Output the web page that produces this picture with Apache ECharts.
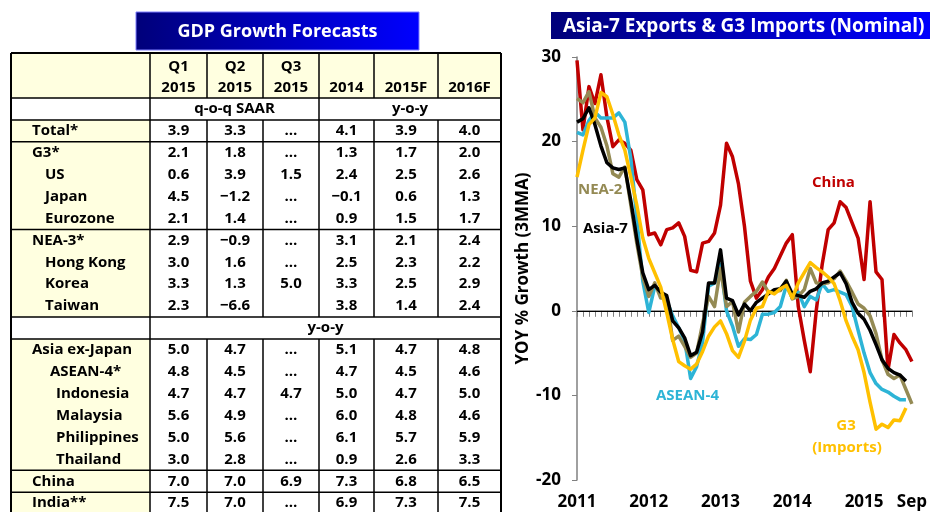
<!DOCTYPE html>
<html><head><meta charset="utf-8">
<script src="https://cdn.jsdelivr.net/npm/echarts@6/dist/echarts.min.js"></script>
<style>html,body{margin:0;padding:0;background:#fff}#c{width:930px;height:512px}</style>
</head><body><div id="c"></div>
<script>
// ================= TABLE DATA =================
const tableTitle = 'GDP Growth Forecasts';
const rowLabels = ['Total*','G3*','US','Japan','Eurozone','NEA-3*','Hong Kong','Korea','Taiwan',
  'Asia ex-Japan','ASEAN-4*','Indonesia','Malaysia','Philippines','Thailand','China','India**'];
const colTop = ['Q1','Q2','Q3','','',''];
const colBottom = ['2015','2015','2015','2014','2015F','2016F'];
const groupQoq = 'q-o-q SAAR';
const groupYoy = 'y-o-y';
// null = "…" (not yet released), '' = blank
const q1_2015 = [3.9,2.1,0.6,4.5,2.1,2.9,3.0,3.3,2.3,5.0,4.8,4.7,5.6,5.0,3.0,7.0,7.5];
const q2_2015 = [3.3,1.8,3.9,-1.2,1.4,-0.9,1.6,1.3,-6.6,4.7,4.5,4.7,4.9,5.6,2.8,7.0,7.0];
const q3_2015 = [null,null,1.5,null,null,null,null,5.0,'',null,null,4.7,null,null,null,6.9,null];
const y2014  = [4.1,1.3,2.4,-0.1,0.9,3.1,2.5,3.3,3.8,5.1,4.7,5.0,6.0,6.1,0.9,7.3,6.9];
const y2015F = [3.9,1.7,2.5,0.6,1.5,2.1,2.3,2.5,1.4,4.7,4.5,4.7,4.8,5.7,2.6,6.8,7.3];
const y2016F = [4.0,2.0,2.6,1.3,1.7,2.4,2.2,2.9,2.4,4.8,4.6,5.0,4.6,5.9,3.3,6.5,7.5];

// ================= CHART DATA =================
const chartTitle = 'Asia-7 Exports & G3 Imports (Nominal)';
const yAxisName = 'YOY % Growth (3MMA)';
const months = [
 '2011-01','2011-02','2011-03','2011-04','2011-05','2011-06','2011-07','2011-08','2011-09','2011-10','2011-11','2011-12',
 '2012-01','2012-02','2012-03','2012-04','2012-05','2012-06','2012-07','2012-08','2012-09','2012-10','2012-11','2012-12',
 '2013-01','2013-02','2013-03','2013-04','2013-05','2013-06','2013-07','2013-08','2013-09','2013-10','2013-11','2013-12',
 '2014-01','2014-02','2014-03','2014-04','2014-05','2014-06','2014-07','2014-08','2014-09','2014-10','2014-11','2014-12',
 '2015-01','2015-02','2015-03','2015-04','2015-05','2015-06','2015-07','2015-08','2015-09'];
const xTickLabels = {'2011-01':'2011','2012-01':'2012','2013-01':'2013','2014-01':'2014','2015-01':'2015','2015-09':'Sep'};
const china  = [29.6,21.4,26.5,24.5,27.9,22.9,19.4,20.2,19.8,19.0,15.5,14.3,
  9.0,9.2,7.8,9.6,9.8,10.4,8.8,4.8,4.6,8.0,8.2,9.2,
  12.5,19.8,18.2,15.0,10.0,3.5,1.5,2.5,4.0,5.0,6.5,8.0,
  9.0,0.5,-3.5,-7.2,0.0,5.5,9.6,10.4,12.9,12.2,10.4,8.6,
  3.7,12.9,4.6,3.7,-7.0,-2.8,-3.8,-4.6,-6.0];
const asia7  = [22.3,22.7,24.0,22.0,19.5,17.5,16.9,16.7,16.9,13.0,8.5,4.5,
  2.5,3.0,2.2,1.8,-1.2,-2.0,-3.2,-5.3,-4.9,-2.5,3.3,3.3,
  7.2,1.5,1.2,-0.5,0.8,0.0,1.0,1.5,2.0,2.5,2.6,3.5,
  2.0,1.8,1.6,2.3,2.6,3.3,3.5,4.0,4.5,3.2,1.0,-0.3,
  -1.0,-2.3,-4.0,-5.8,-6.8,-7.3,-7.6,-8.3,null];
const nea2   = [25.1,24.6,25.9,22.8,21.7,19.5,16.2,15.8,17.0,12.5,8.0,4.0,
  1.7,3.3,1.5,1.5,-3.5,-3.0,-4.2,-5.5,-5.0,-1.5,1.7,0.5,
  5.0,0.5,1.1,-2.5,1.0,1.7,2.3,3.4,2.2,2.3,2.4,3.6,
  1.4,1.7,2.5,5.0,3.3,3.2,3.3,3.8,4.7,3.5,2.2,0.8,
  0.3,-0.6,-2.7,-5.8,-7.5,-8.0,-7.6,-9.3,-11.0];
const asean4 = [21.1,20.8,22.5,23.5,22.8,22.8,22.8,23.4,22.3,18.0,11.0,3.5,
  -0.2,2.9,2.3,1.2,-0.6,-2.0,-3.5,-8.0,-6.6,-3.7,2.9,3.3,
  5.5,0.0,-1.8,-4.2,-3.3,-3.4,-2.8,-0.4,-0.4,-0.2,0.5,3.0,
  1.5,2.2,0.5,1.7,1.3,3.2,2.3,2.5,2.2,1.9,0.5,-2.3,
  -5.0,-7.3,-8.6,-9.3,-9.6,-10.1,-10.5,-10.5,null];
const g3     = [15.8,19.0,22.0,22.8,25.8,25.3,23.2,20.8,19.0,15.8,12.5,8.6,
  6.2,4.5,2.8,-0.2,-3.4,-6.0,-6.5,-6.9,-6.3,-4.8,-3.0,-1.9,
  -1.2,-2.7,-4.7,-5.5,-3.6,-1.1,0.3,0.5,2.3,2.0,2.6,3.0,
  1.5,3.3,4.5,5.7,5.1,4.6,4.0,3.2,1.2,-1.2,-3.0,-4.6,
  -7.3,-10.8,-14.0,-13.4,-13.8,-12.9,-13.0,-11.5,null];
const seriesNames = ['China','ASEAN-4','NEA-2','Asia-7','G3'];

// ================= STYLE / LAYOUT =================
const C = {china:'#C00000', asia7:'#000000', nea2:'#948A54', asean4:'#2DB4D6', g3:'#FFC000'};
const TF = '"Open Sans", "Liberation Sans", sans-serif';
const colX = [11,150,207,263,319,374,438,501];
const tTop = 53, headBottom = 98, rowH = 21.9, tBottom = 515;
const labelIndent = [21,21,34,34,34,21,34,34,34,21,39,45,45,45,45,21,21];
const yellow = '#FFFFE0';

function fmt(v){
  if (v === null) return '…';
  if (v === '') return '';
  return v.toFixed(1).replace('-', '\u2212');
}
function rowTop(r){ return headBottom + r*rowH; }
function dataRow(d){ return d + 1 + (d >= 9 ? 1 : 0); }

const els = [];
function line(x1,y1,x2,y2,w){ els.push({type:'line',shape:{x1,y1,x2,y2},style:{stroke:'#000',lineWidth:w||1.5},z:10}); }
function rect(x,y,w,h,fill,z){ els.push({type:'rect',shape:{x,y,width:w,height:h},style:{fill},z:z||1}); }
function text(t,x,y,align,opt){
  els.push({type:'text',x,y,style:Object.assign({text:t,fill:'#000',font:'bold 15px '+TF,align:align||'center',verticalAlign:'middle'},opt||{}),z:20});
}

// title boxes
const grad = () => new echarts.graphic.LinearGradient(0,0,1,0,[{offset:0,color:'#00007A'},{offset:1,color:'#0000FF'}]);
els.push({type:'rect',shape:{x:136,y:12,width:283,height:38},style:{fill:grad(),stroke:'#7F7FFF',lineWidth:1},z:2});
text(tableTitle,277.5,32,'center',{fill:'#fff',font:'bold 18px '+TF});
els.push({type:'rect',shape:{x:551,y:12,width:385,height:27},style:{fill:grad()},z:2});
text(chartTitle,563,27,'left',{fill:'#fff',font:'bold 19px '+TF});

// backgrounds
rect(colX[0],tTop,colX[7]-colX[0],headBottom-tTop,yellow);
rect(colX[0],rowTop(1),colX[1]-colX[0],rowTop(10)-rowTop(1),yellow);
rect(colX[0],rowTop(11),colX[1]-colX[0],tBottom-rowTop(11),yellow);

// header text
const valueCols = [q1_2015,q2_2015,q3_2015,y2014,y2015F,y2016F];
for (let c=0;c<6;c++){
  const cx = (colX[c+1]+colX[c+2])/2;
  if (colTop[c]) text(colTop[c],cx,67);
  text(colBottom[c],cx,88);
}
text(groupQoq,(colX[1]+colX[4])/2,rowTop(0)+rowH/2);
text(groupYoy,(colX[4]+colX[7])/2,rowTop(0)+rowH/2);
text(groupYoy,(colX[1]+colX[7])/2,rowTop(10)+rowH/2);

// data rows
rowLabels.forEach((lab,d)=>{
  const r = dataRow(d), cy = rowTop(r)+rowH/2;
  text(lab,colX[0]+labelIndent[d],cy,'left');
  valueCols.forEach((col,c)=>{ text(fmt(col[d]),(colX[c+1]+colX[c+2])/2,cy); });
});

// grid lines
line(colX[0],tTop,colX[7],tTop,2);
[0,1,2,6,10,11,17,18].forEach(r=> line(colX[0],rowTop(r),colX[7],rowTop(r)));
line(colX[0],tTop,colX[0],tBottom,2);
line(colX[7],tTop,colX[7],tBottom,2);
line(colX[1],tTop,colX[1],tBottom);
[2,3,5,6].forEach(i=>{
  line(colX[i],tTop,colX[i],headBottom);
  line(colX[i],rowTop(1),colX[i],rowTop(10));
  line(colX[i],rowTop(11),colX[i],tBottom);
});
line(colX[4],tTop,colX[4],rowTop(10));
line(colX[4],rowTop(11),colX[4],tBottom);

// series labels
const lf = 'bold 15px '+TF;
text('China',812,183,'left',{fill:C.china,font:lf});
text('NEA-2',578,190,'left',{fill:C.nea2,font:lf});
text('Asia-7',583,229,'left',{fill:C.asia7,font:lf});
text('ASEAN-4',656,396,'left',{fill:C.asean4,font:lf});
text('G3',846,426,'center',{fill:C.g3,font:lf});
text('(Imports)',847,448,'center',{fill:C.g3,font:lf});

function mk(name,data,color,extra){
  return Object.assign({name,type:'line',data,showSymbol:false,symbol:'none',connectNulls:false,
    lineStyle:{color,width:3.5,join:'round'},itemStyle:{color},silent:true,animation:false},extra||{});
}

const chart = echarts.init(document.getElementById('c'),null,{renderer:'canvas'});
chart.setOption({
  animation:false,
  backgroundColor:'#fff',
  grid:{left:577,right:18,top:57,bottom:32,containLabel:false},
  xAxis:{type:'category',data:months,boundaryGap:false,
    axisLine:{lineStyle:{color:'#808080',width:1.5}},
    axisTick:{show:true,interval:0,length:6,lineStyle:{color:'#808080',width:1}},
    axisLabel:{interval:0,margin:14,formatter:v=>xTickLabels[v]||'',color:'#000',fontWeight:'bold',fontSize:17,fontFamily:TF},
    splitLine:{show:false}},
  yAxis:{type:'value',min:-20,max:30,interval:10,
    name:yAxisName,nameLocation:'middle',nameGap:45,nameRotate:90,
    nameTextStyle:{color:'#000',fontWeight:'bold',fontSize:17,fontFamily:TF},
    axisLine:{show:true,lineStyle:{color:'#808080',width:1.5}},
    axisTick:{show:true,length:5,lineStyle:{color:'#808080'}},
    axisLabel:{color:'#000',fontWeight:'bold',fontSize:17,fontFamily:TF,margin:16},
    splitLine:{show:false}},
  series:[
    mk(seriesNames[0],china,C.china,{markLine:{silent:true,symbol:'none',label:{show:false},
      lineStyle:{color:'#000',width:1,type:'solid'},data:[{yAxis:0}],z:1}}),
    mk(seriesNames[1],asean4,C.asean4),
    mk(seriesNames[2],nea2,C.nea2),
    mk(seriesNames[3],asia7,C.asia7),
    mk(seriesNames[4],g3,C.g3)
  ],
  graphic:{elements:els}
});
</script></body></html>
